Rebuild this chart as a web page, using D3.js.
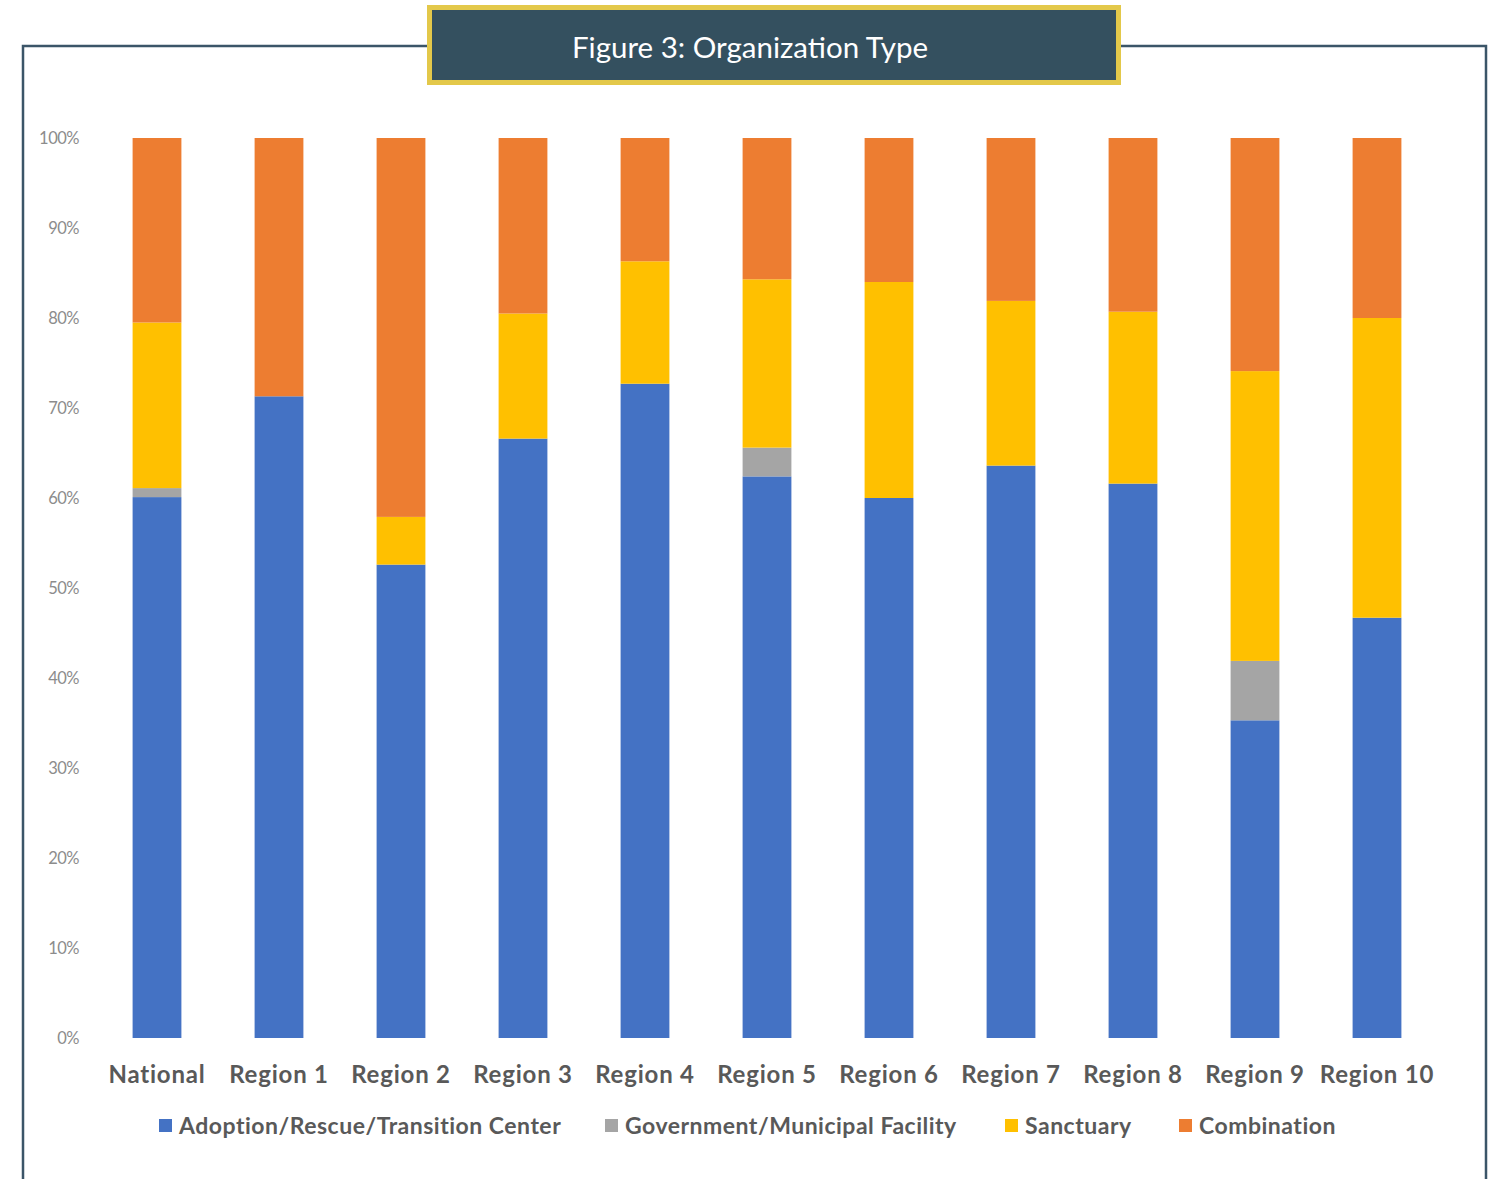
<!DOCTYPE html>
<html><head><meta charset="utf-8">
<script src="https://cdn.jsdelivr.net/npm/d3@7"></script>
<style>body{margin:0;background:#fff}svg{display:block}</style>
</head><body>
<svg id="c" width="1492" height="1179"></svg>
<script>
const categories = ["National","Region 1","Region 2","Region 3","Region 4","Region 5","Region 6","Region 7","Region 8","Region 9","Region 10"];
const seriesNames = ["Adoption/Rescue/Transition Center","Government/Municipal Facility","Sanctuary","Combination"];
const adoption    = [60.1, 71.3, 52.6, 66.6, 72.7, 62.4, 60.0, 63.6, 61.6, 35.3, 46.7];
const government  = [ 1.0,  0.0,  0.0,  0.0,  0.0,  3.2,  0.0,  0.0,  0.0,  6.6,  0.0];
const sanctuary   = [18.4,  0.0,  5.3, 13.9, 13.6, 18.7, 24.0, 18.3, 19.1, 32.2, 33.3];
const combination = [20.5, 28.7, 42.1, 19.5, 13.7, 15.7, 16.0, 18.1, 19.3, 25.9, 20.0];
const yTicks = [0,10,20,30,40,50,60,70,80,90,100];
const colors = ["#4472c4","#a5a5a5","#ffc000","#ed7d31"];

const svg = d3.select("#c");
// frame
svg.append("path").attr("d","M23,1179 V46 H1486 V1179").attr("fill","none").attr("stroke","#3b5568").attr("stroke-width",2.5);
// title box
svg.append("rect").attr("x",429.5).attr("y",7.5).attr("width",689).attr("height",75)
  .attr("fill","#34505f").attr("stroke","#e3c84a").attr("stroke-width",5);
svg.append("text").attr("x",750).attr("y",46).attr("text-anchor","middle").attr("dominant-baseline","central")
  .attr("fill","#fff").attr("font-family","Lato, 'Open Sans', sans-serif").attr("font-size",29.5)
  .text("Figure 3: Organization Type");

const x = d3.scaleBand().domain(categories).range([96,1438]).paddingInner(0.6).paddingOuter(0.3);
const y = d3.scaleLinear().domain([0,100]).range([1038,138]);

const rows = categories.map((c,i)=>({cat:c, a:adoption[i], g:government[i], s:sanctuary[i], o:combination[i]}));
const stack = d3.stack().keys(["a","g","s","o"])(rows);

svg.append("g").selectAll("g").data(stack).join("g").attr("fill",(d,i)=>colors[i])
  .selectAll("rect").data(d=>d).join("rect")
  .attr("x",d=>x(d.data.cat)).attr("width",x.bandwidth())
  .attr("y",d=>y(d[1])).attr("height",d=>Math.max(0,y(d[0])-y(d[1])));

// y axis
const ya = svg.append("g").attr("transform","translate(79,0)")
  .call(d3.axisLeft(y).tickValues(yTicks).tickFormat(d=>d+"%").tickSize(0).tickPadding(0));
ya.select(".domain").remove();
ya.selectAll("text").attr("fill","#8c8c8c").attr("font-family","Lato, sans-serif").attr("font-size",16.5).attr("letter-spacing",-0.5);

// x axis
const xa = svg.append("g").attr("transform","translate(0,1038)")
  .call(d3.axisBottom(x).tickSize(0).tickPadding(45));
xa.select(".domain").remove();
xa.selectAll("text").attr("fill","#595959").attr("font-family","Lato, sans-serif").attr("font-size",24).attr("font-weight","bold").attr("letter-spacing",0.8).attr("dy","0");

// legend
const legX = [159,605,1005,1179];
const lg = svg.append("g").selectAll("g").data(seriesNames).join("g")
  .attr("transform",(d,i)=>`translate(${legX[i]},1125)`);
lg.append("rect").attr("x",0).attr("y",-6).attr("width",13).attr("height",13).attr("fill",(d,i)=>colors[i]);
lg.append("text").attr("x",20).attr("y",0).attr("dominant-baseline","central")
  .attr("fill","#595959").attr("font-family","Lato, sans-serif").attr("font-size",23).attr("font-weight","bold").attr("letter-spacing",0.5).text(d=>d);
</script>
</body></html>
